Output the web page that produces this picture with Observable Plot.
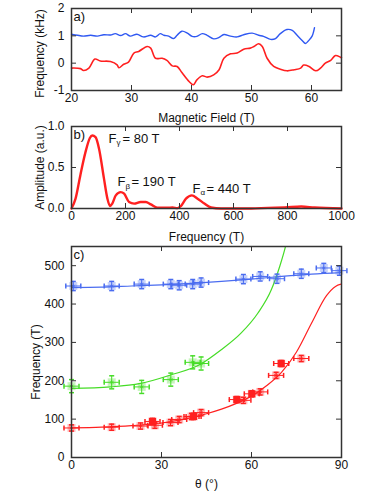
<!DOCTYPE html>
<html><head><meta charset="utf-8">
<script src="https://cdn.jsdelivr.net/npm/d3@7"></script>
<script src="https://cdn.jsdelivr.net/npm/@observablehq/plot@0.6"></script>
<style>
body{margin:0;background:#fff}
#chart{width:392px;height:500px;background:#fff;font-family:"Liberation Sans",Arial,sans-serif}
#chart svg{display:block;overflow:visible}
</style>
</head><body><div id="chart"></div>
<script>
// ---------- Panel a: frequency shift vs magnetic field ----------
const blueField = [20,21,22,23.2,24.3,25.4,26.5,27.3,28.2,29,29.8,30.9,32,33.2,34,34.8,35.4,36.2,37,37.6,38.4,39.3,40.1,40.9,41.8,42.6,43.7,44.6,45.4,46.5,47.6,48.7,50.1,51.2,52,53.2,54,54.8,55.9,56.8,57.6,58.4,59,59.5,60.1,60.5];
const blueFreq  = [1.06,1.02,0.99,1.02,0.99,1.04,1.03,1.08,1.01,1.08,0.99,1.06,0.96,1.02,0.96,1.08,1.02,0.99,0.9,1.02,1.17,1.1,0.98,0.98,1.08,1.02,0.89,0.94,1.05,0.99,0.96,1.04,1.1,1.02,0.98,0.87,0.9,1.08,1.23,1.2,1.02,0.84,0.72,0.82,0.99,1.3];
const redField  = [20,21.5,22,22.9,23.9,24.8,26.5,27.6,27.9,28.7,29.5,30.4,31.2,32.6,33.2,34,35.1,35.9,36.8,37.6,38.4,39.6,40.3,40.9,41.8,42.6,43.7,44.6,45.4,46.5,47.6,48.7,49.8,50.4,51.2,51.8,52.6,53.7,54.8,55.9,57.1,58.2,58.7,59.6,60.7,61.5,62.3,63.2,64,64.8,65];
const redFreq   = [-0.18,-0.2,-0.27,-0.18,0.15,0.08,0.06,-0.06,-0.17,-0.04,0.04,0.37,0.43,0.61,0.55,0.18,0.18,0.1,-0.1,-0.12,-0.34,-0.67,-0.79,-0.61,-0.46,-0.51,-0.43,-0.24,0.18,0.34,0.37,0.51,0.55,0.61,0.71,0.61,0.18,-0.12,-0.22,-0.28,-0.24,-0.18,-0.07,-0.12,-0.28,-0.18,0,0.1,0.28,0.22,0.2];
const aTicksX = [20,30,40,50,60];
const aTicksY = [-1,0,1,2];

// ---------- Panel b: FFT amplitude ----------
const fftFreq = [0,15,33,52,68,77,89,102,120,133,143,151,164,182,195,213,232,256,275,294,318,356,374,393,405,424,446,467,492,517,554,665,727,789,851,900,1000];
const fftAmp  = [0,0.12,0.41,0.69,0.86,0.89,0.87,0.73,0.37,0.12,0.03,0.06,0.16,0.2,0.18,0.08,0.06,0.08,0.08,0.05,0.01,0.01,0.012,0.004,0.03,0.12,0.16,0.12,0.06,0.012,0,0,0.008,0.012,0.024,0.012,0];
const annFreq = [137,170,448];
const annAmp  = [0.85,0.32,0.24];
const annSub  = ["γ","β","α"];
const annRest = ["= 80 T","= 190 T","= 440 T"];
const bTicksX = [0,200,400,600,800,1000];
const bTicksY = [0,0.5,1];

// ---------- Panel c: angular dependence ----------
const blueTheta = [0.6,13.4,23.4,33.1,35.9,40.4,43.2,57.3,62.9,68.5,76.6,84.1,89.3];
const blueF     = [447,447,452,452,449,452,456,465,472,466,479,494,487];
const greenTheta = [0,13.4,23.4,33.1,40.4,43.2];
const greenF     = [186,196,184,203,248,245];
const redTheta = [0,13.4,23,27.8,33,35.9,40,43.2,57.3,62.9,68.2,76.6];
const redF     = [77,79,82,84,91,99,107,117,149,171,214,258];
const redSolidTheta = [27,40.7,55.1,60.1,69.9];
const redSolidF     = [94,107,151,166,245];
const blueFitTheta = [0,10,20,30,40,50,60,70,80,90];
const blueFitF     = [443,444,447,450,454,459,465,472,478,482];
const greenFitTheta = [0,13,23,33,43,49.8,56.5,62.1,66.6,69.4,71.4,72.5];
const greenFitF     = [180,184,193,215,243,280,324,376,437,498,552,590];
const redFitTheta = [0,10,20,30,40,45,50,55,60,65,70,75,80,85,88,90];
const redFitF     = [77,79,83,90,104,114,126,141,160,187,222,275,350,422,446,452];
const errTheta = 2.5;
const errBlue = 12, errGreen = 17, errRed = 8;
const cTicksX = [0,30,60,90];
const cTicksY = [0,100,200,300,400,500];

// ---------- styling ----------
const FRAME = "#333";
const BLUE_A = "#2f58f2", RED = "#ff2020", BLUE_C = "#4a6cf0", GREEN = "#45dc26";
const ML = 71, MR = 51, PW = 392 - ML - MR;
const font = {fontFamily: "'Liberation Sans', Arial, sans-serif", fontSize: "12px", color: "#111", overflow: "visible"};
const fmt = d => String(d);

function frameTicks(xt, yt, ph) {
  return [
    Plot.tickX(xt, {x: d => d, insetTop: ph - 5, stroke: FRAME}),
    Plot.tickX(xt, {x: d => d, insetBottom: ph - 5, stroke: FRAME}),
    Plot.tickY(yt, {y: d => d, insetRight: PW - 5, stroke: FRAME}),
    Plot.tickY(yt, {y: d => d, insetLeft: PW - 5, stroke: FRAME}),
    Plot.frame({stroke: FRAME, strokeWidth: 1.5})
  ];
}
function labels(panel, xl, yl, xdy, ydx, ydy) {
  return [
    Plot.text([panel], {text: d => d, frameAnchor: "top-left", dx: 2, dy: 3, textAnchor: "start", lineAnchor: "top", fontSize: 13, fill: "#111"}),
    Plot.text([xl], {text: d => d, frameAnchor: "bottom", dy: xdy, textAnchor: "middle", lineAnchor: "middle", fontSize: 12, fill: "#111"}),
    Plot.text([yl], {text: d => d, frameAnchor: "left", dx: ydx, dy: ydy, rotate: -90, textAnchor: "middle", lineAnchor: "middle", fontSize: 12, fill: "#111"})
  ];
}

const capH = {draw(ctx, size) { const r = Math.sqrt(size / Math.PI); ctx.moveTo(-r, 0); ctx.lineTo(r, 0); }};
const capV = {draw(ctx, size) { const r = Math.sqrt(size / Math.PI); ctx.moveTo(0, -r); ctx.lineTo(0, r); }};
function errMarks(th, F, dF, color) {
  const data = th.map((t, i) => ({t, F: F[i]}));
  return [
    Plot.dot(data, {x: "t", y: "F", symbol: "square", r: 4.5, fill: color, fillOpacity: 0.3, stroke: "none"}),
    Plot.ruleY(data, {y: "F", x1: d => d.t - errTheta, x2: d => d.t + errTheta, stroke: color, strokeWidth: 1}),
    Plot.ruleX(data, {x: "t", y1: d => d.F - dF, y2: d => d.F + dF, stroke: color, strokeWidth: 1}),
    Plot.dot(data, {x: d => d.t - errTheta, y: "F", symbol: capV, r: 2.5, fill: "none", stroke: color}),
    Plot.dot(data, {x: d => d.t + errTheta, y: "F", symbol: capV, r: 2.5, fill: "none", stroke: color}),
    Plot.dot(data, {x: "t", y: d => d.F - dF, symbol: capH, r: 2.5, fill: "none", stroke: color}),
    Plot.dot(data, {x: "t", y: d => d.F + dF, symbol: capH, r: 2.5, fill: "none", stroke: color}),
    Plot.dot(data, {x: "t", y: "F", symbol: "asterisk", r: 2.2, stroke: color, strokeWidth: 0.8, strokeOpacity: 0.8})
  ];
}

// Panel a
const aBlue = blueField.map((f, i) => ({f, v: blueFreq[i]}));
const aRed = redField.map((f, i) => ({f, v: redFreq[i]}));
const HA = 122, MTA = 8, MBA = 32;
const plotA = Plot.plot({
  width: 392, height: HA, marginLeft: ML, marginRight: MR, marginTop: MTA, marginBottom: MBA,
  style: font,
  x: {domain: [20, 65]}, y: {domain: [-1, 2]},
  marks: [
    Plot.line(aBlue, {x: "f", y: "v", stroke: BLUE_A, strokeWidth: 1.4, curve: "catmull-rom"}),
    Plot.line(aRed, {x: "f", y: "v", stroke: RED, strokeWidth: 1.6, curve: "catmull-rom"}),
    ...frameTicks(aTicksX, aTicksY, HA - MTA - MBA),
    Plot.axisX({ticks: aTicksX, tickSize: 0, tickPadding: 3, tickFormat: fmt, label: null, fontSize: 12}),
    Plot.axisY({ticks: aTicksY, tickSize: 0, tickPadding: 7, tickFormat: fmt, label: null, fontSize: 12}),
    ...labels("a)", "Magnetic Field (T)", "Frequency (kHz)", 28, -31, 4)
  ]
});

// Panel b
const bData = fftFreq.map((f, i) => ({f, a: fftAmp[i]}));
const ann = annFreq.map((f, i) => ({f, a: annAmp[i], sub: annSub[i], rest: annRest[i]}));
const HB = 118, MTB = 4, MBB = 32;
const plotB = Plot.plot({
  width: 392, height: HB, marginLeft: ML, marginRight: MR, marginTop: MTB, marginBottom: MBB,
  style: font,
  x: {domain: [0, 1000]}, y: {domain: [0, 1]},
  marks: [
    Plot.line(bData, {x: "f", y: "a", stroke: RED, strokeWidth: 2.4, curve: "monotone-x"}),
    Plot.text(ann, {x: "f", y: "a", text: () => "F", textAnchor: "start", fontSize: 13, fill: "#111"}),
    Plot.text(ann, {x: "f", y: "a", text: "sub", textAnchor: "start", dx: 8, dy: 4, fontSize: 8, fill: "#111"}),
    Plot.text(ann, {x: "f", y: "a", text: "rest", textAnchor: "start", dx: 14, fontSize: 13, fill: "#111"}),
    ...frameTicks(bTicksX, bTicksY, HB - MTB - MBB),
    Plot.axisX({ticks: bTicksX, tickSize: 0, tickPadding: 3, tickFormat: fmt, label: null, fontSize: 12}),
    Plot.axisY({ticks: bTicksY, tickSize: 0, tickPadding: 7, tickFormat: d3.format(".1f"), label: null, fontSize: 12}),
    ...labels("b)", "Frequency (T)", "Amplitude (a.u.)", 29, -31, 0)
  ]
});

// Panel c
const fitLine = (th, F) => th.map((t, i) => ({t, F: F[i]}));
const HC = 260, MTC = 6, MBC = 43;
const plotC = Plot.plot({
  width: 392, height: HC, marginLeft: ML, marginRight: MR, marginTop: MTC, marginBottom: MBC,
  style: font,
  x: {domain: [0, 90]}, y: {domain: [0, 550]},
  marks: [
    Plot.line(fitLine(blueFitTheta, blueFitF), {x: "t", y: "F", stroke: BLUE_C, strokeWidth: 1.2, curve: "monotone-x", clip: true}),
    Plot.line(fitLine(greenFitTheta, greenFitF), {x: "t", y: "F", stroke: GREEN, strokeWidth: 1.2, curve: "monotone-x", clip: true}),
    Plot.line(fitLine(redFitTheta, redFitF), {x: "t", y: "F", stroke: RED, strokeWidth: 1.2, curve: "monotone-x", clip: true}),
    ...errMarks(blueTheta, blueF, errBlue, BLUE_C),
    ...errMarks(greenTheta, greenF, errGreen, GREEN),
    ...errMarks(redTheta, redF, errRed, RED),
    ...errMarks(redSolidTheta, redSolidF, errRed, RED),
    Plot.dot(fitLine(redSolidTheta, redSolidF), {x: "t", y: "F", symbol: "square", r: 4, fill: RED, stroke: "none"}),
    ...frameTicks(cTicksX, cTicksY, HC - MTC - MBC),
    Plot.axisX({ticks: cTicksX, tickSize: 0, tickPadding: 3, tickFormat: fmt, label: null, fontSize: 12}),
    Plot.axisY({ticks: cTicksY, tickSize: 0, tickPadding: 7, tickFormat: fmt, label: null, fontSize: 12}),
    ...labels("c)", "θ (°)", "Frequency (T)", 27, -35, 10)
  ]
});

const chart = document.getElementById("chart");
chart.append(plotA, plotB, plotC);
</script>
</body></html>
